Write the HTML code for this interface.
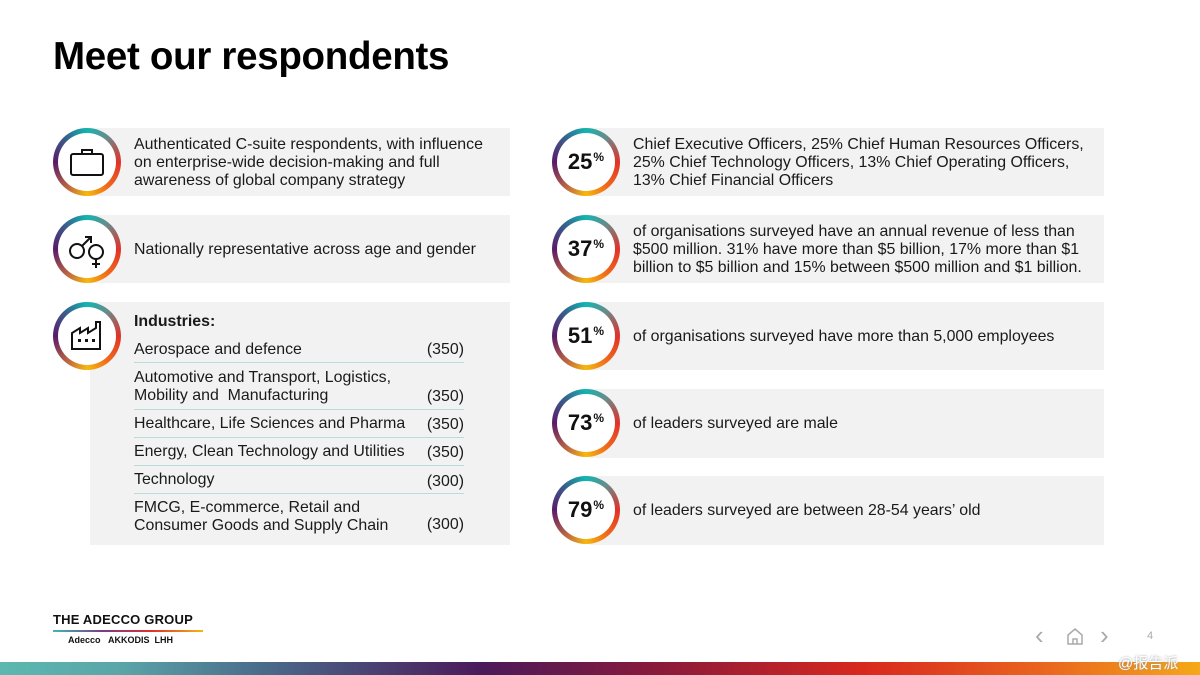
<!DOCTYPE html>
<html><head><meta charset="utf-8"><style>
*{margin:0;padding:0;box-sizing:border-box}
body{width:1200px;height:675px;position:relative;background:#fff;font-family:"Liberation Sans",Arial,sans-serif;color:#1a1a1a;overflow:hidden}
.abs{position:absolute}
h1{position:absolute;left:53px;top:35px;font-size:38.5px;font-weight:bold;letter-spacing:-0.3px;color:#000}
.box{position:absolute;background:#f2f2f2}
.ring{position:absolute;width:68px;height:68px;border-radius:50%;background:conic-gradient(from 0deg,#12b5b0 0deg,#6a8a8a 40deg,#e0322a 90deg,#f06a1a 140deg,#f5b80e 180deg,#c06a40 215deg,#5a1a6a 270deg,#3a5a8a 315deg,#12b5b0 360deg)}
.ring::after{content:"";position:absolute;left:5px;top:5px;width:58px;height:58px;border-radius:50%;background:#fff}
.ring .in{position:absolute;inset:0;z-index:2;display:flex;align-items:center;justify-content:center}
.pct{font-size:22px;font-weight:bold;color:#111}
.pct sup{font-size:12px;vertical-align:8px;margin-left:1px}
.t{position:absolute;font-size:15.9px;line-height:18px;color:#1a1a1a}
.row{position:absolute;left:134px;width:330px;font-size:15.9px;line-height:18px;border-bottom:1px solid #b9dcda}
.row span{position:absolute;right:0;bottom:3px}
</style></head><body>
<h1>Meet our respondents</h1>

<div class="box" style="left:90px;top:128px;width:420px;height:68px"></div>
<div class="box" style="left:90px;top:215px;width:420px;height:68px"></div>
<div class="box" style="left:90px;top:302px;width:420px;height:243px"></div>
<div class="box" style="left:590px;top:128px;width:514px;height:68px"></div>
<div class="box" style="left:590px;top:215px;width:514px;height:68px"></div>
<div class="box" style="left:590px;top:302px;width:514px;height:68px"></div>
<div class="box" style="left:590px;top:389px;width:514px;height:69px"></div>
<div class="box" style="left:590px;top:476px;width:514px;height:69px"></div>

<div class="ring" style="left:53px;top:128px"><div class="in"><svg width="36" height="30" viewBox="0 0 36 30"><rect x="2" y="7" width="32" height="21" rx="2" fill="none" stroke="#111" stroke-width="2"/><path d="M13 7V3h10v4" fill="none" stroke="#111" stroke-width="2"/></svg></div></div>
<div class="ring" style="left:53px;top:215px"><div class="in"><svg width="44" height="40" viewBox="0 0 44 40"><circle cx="12" cy="22" r="7" fill="none" stroke="#111" stroke-width="2"/><path d="M17 17l9-9M20 8h6v6" fill="none" stroke="#111" stroke-width="2"/><circle cx="31" cy="23" r="7" fill="none" stroke="#111" stroke-width="2"/><path d="M31 30v9M27 35h8" stroke="#111" stroke-width="2"/></svg></div></div>
<div class="ring" style="left:53px;top:302px"><div class="in"><svg width="34" height="34" viewBox="0 0 34 34"><path d="M2 30V14l8-5v5l8-5v5l8-5V3h4v27z" fill="none" stroke="#111" stroke-width="2"/><rect x="8" y="20" width="3" height="3" fill="#111"/><rect x="15" y="20" width="3" height="3" fill="#111"/><rect x="22" y="20" width="3" height="3" fill="#111"/></svg></div></div>

<div class="ring" style="left:552px;top:128px"><div class="in"><span class="pct">25<sup>%</sup></span></div></div>
<div class="ring" style="left:552px;top:215px"><div class="in"><span class="pct">37<sup>%</sup></span></div></div>
<div class="ring" style="left:552px;top:302px"><div class="in"><span class="pct">51<sup>%</sup></span></div></div>
<div class="ring" style="left:552px;top:389px"><div class="in"><span class="pct">73<sup>%</sup></span></div></div>
<div class="ring" style="left:552px;top:476px"><div class="in"><span class="pct">79<sup>%</sup></span></div></div>

<div class="t" style="left:134px;top:136px">Authenticated C-suite respondents, with influence<br>on enterprise-wide decision-making and full<br>awareness of global company strategy</div>
<div class="t" style="left:134px;top:241px">Nationally representative across age and gender</div>
<div class="t" style="left:134px;top:313px;font-weight:bold">Industries:</div>
<div class="row" style="top:341px;height:22px">Aerospace and defence<span>(350)</span></div>
<div class="row" style="top:369px;height:41px">Automotive and Transport, Logistics,<br>Mobility and &nbsp;Manufacturing<span>(350)</span></div>
<div class="row" style="top:415px;height:23px">Healthcare, Life Sciences and Pharma<span>(350)</span></div>
<div class="row" style="top:443px;height:23px">Energy, Clean Technology and Utilities<span>(350)</span></div>
<div class="row" style="top:471px;height:23px;border:none">Technology<span>(300)</span></div>
<div class="row" style="top:499px;height:38px;border:none">FMCG, E-commerce, Retail and<br>Consumer Goods and Supply Chain<span>(300)</span></div>
<div class="abs" style="left:134px;top:493px;width:330px;border-top:1px solid #b9dcda"></div>

<div class="t" style="left:633px;top:136px">Chief Executive Officers, 25% Chief Human Resources Officers,<br>25% Chief Technology Officers, 13% Chief Operating Officers,<br>13% Chief Financial Officers</div>
<div class="t" style="left:633px;top:223px">of organisations surveyed have an annual revenue of less than<br>$500 million. 31% have more than $5 billion, 17% more than $1<br>billion to $5 billion and 15% between $500 million and $1 billion.</div>
<div class="t" style="left:633px;top:328px">of organisations surveyed have more than 5,000 employees</div>
<div class="t" style="left:633px;top:415px">of leaders surveyed are male</div>
<div class="t" style="left:633px;top:502px">of leaders surveyed are between 28-54 years’ old</div>

<div class="abs" style="left:53px;top:612px;font-size:13px;font-weight:bold;color:#111;letter-spacing:0.2px">THE ADECCO GROUP</div>
<div class="abs" style="left:53px;top:630px;width:150px;height:2px;background:linear-gradient(90deg,#3fb8b3,#7a3a8a,#e0322a,#f5b80e)"></div>
<div class="abs" style="left:68px;top:635px;font-size:9px;color:#111;font-weight:bold">Adecco &nbsp;&nbsp;AKKODIS &nbsp;LHH</div>

<div class="abs" style="left:1035px;top:620px;font-size:26px;color:#aaa">&#x2039;</div>
<svg class="abs" style="left:1066px;top:627px" width="18" height="18" viewBox="0 0 18 18"><path d="M2 8L9 2l7 6v9H2z M7 17v-5h4v5" fill="none" stroke="#aaa" stroke-width="1.5"/></svg>
<div class="abs" style="left:1100px;top:620px;font-size:26px;color:#aaa">&#x203a;</div>
<div class="abs" style="left:1147px;top:630px;font-size:11px;color:#aaa">4</div>

<div class="abs" style="left:0;top:662px;width:1200px;height:13px;background:linear-gradient(90deg,#5bb8b0 0%,#5aa5a8 10%,#4a6a8a 22%,#4a1a5a 40%,#8a1a3a 55%,#d8281e 72%,#ea6a1e 88%,#f5a818 100%)"></div>
<div class="abs" style="left:1118px;top:652px;font-size:15px;color:#fff;font-family:'Liberation Sans','Noto Sans CJK SC',sans-serif;text-shadow:0 0 2px #999">@报告派</div>
</body></html>
